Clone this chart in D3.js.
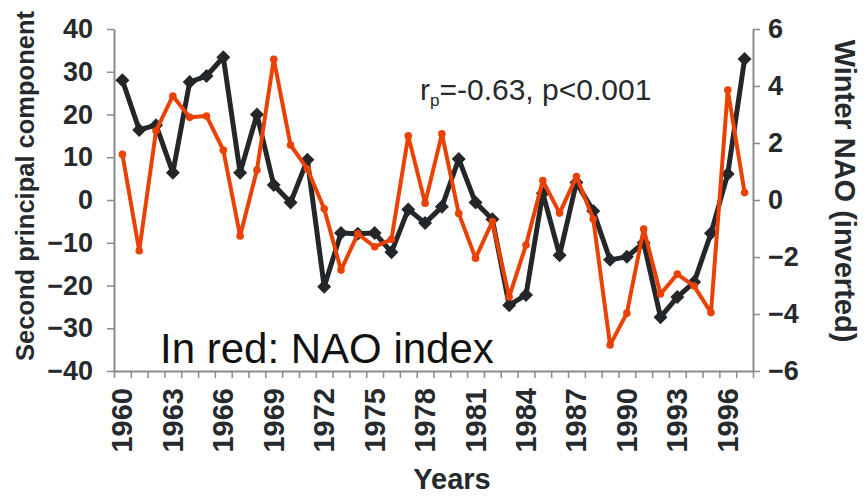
<!DOCTYPE html>
<html>
<head>
<meta charset="utf-8">
<script src="https://cdn.jsdelivr.net/npm/d3@7"></script>
<style>
  html, body { margin: 0; padding: 0; background: #fff; }
  svg { display: block; font-family: "Liberation Sans", Arial, Helvetica, sans-serif; }
</style>
</head>
<body>
<svg id="chart" width="867" height="496"></svg>
<script>
// Years of record
const years = d3.range(1960, 1998);

// Second principal component (left axis)
const pc2 = [28, 16.4, 17.5, 6.4, 27.6, 29, 33.4, 6.4, 20, 3.5,
             -0.6, 9.4, -20.3, -7.7, -7.9, -7.7, -12.2, -2.2, -5.4, -1.6,
             9.6, -0.6, -4.5, -24.6, -22.2, 1.6, -12.9, 4.1, -2.6, -14,
             -13.3, -10, -27.4, -22.7, -19.2, -7.8, 6.1, 33];

// Winter NAO index, inverted (right axis)
const nao = [1.6, -1.78, 2.43, 3.65, 2.9, 2.95, 1.75, -1.26, 1.05, 4.94,
             1.93, 1.09, -0.31, -2.46, -1.19, -1.64, -1.38, 2.25, -0.11, 2.32,
             -0.47, -2.04, -0.76, -3.4, -1.58, 0.68, -0.46, 0.82, -0.67, -5.09,
             -3.97, -1.02, -3.3, -2.6, -3.02, -3.95, 3.86, 0.26];

const leftTicks = d3.range(-40, 41, 10);
const rightTicks = d3.range(-6, 7, 2);
const yearLabels = d3.range(1960, 1998, 3);

const svg = d3.select("#chart");
const plotL = 114, plotR = 753, plotT = 29, plotB = 371;
const ink = "#262a2d", axisGrey = "#8a8a8a";
const blackSeries = "#23272a", redSeries = "#ea4104";

const x = d3.scaleLinear().domain([1959.5, 1997.5]).range([plotL, plotR]);
const yL = d3.scaleLinear().domain([-40, 40]).range([plotB, plotT]);
const yR = d3.scaleLinear().domain([-6, 6]).range([plotB, plotT]);

// Axes
function styleAxis(g) {
  g.selectAll(".domain").attr("stroke", axisGrey).attr("stroke-width", 2);
  g.selectAll(".tick line").attr("stroke", axisGrey).attr("stroke-width", 1.5);
  g.selectAll("text").attr("fill", ink).attr("font-weight", "bold")
    .attr("font-family", "'Liberation Sans', Arial, sans-serif");
}

svg.append("g").attr("transform", `translate(${plotL},0)`)
  .call(d3.axisLeft(yL).tickValues(leftTicks).tickSize(7).tickPadding(14).tickSizeOuter(0))
  .call(styleAxis)
  .call(g => g.selectAll("text").attr("font-size", 27));

svg.append("g").attr("transform", `translate(${plotR},0)`)
  .call(d3.axisRight(yR).tickValues(rightTicks).tickSize(7).tickPadding(8).tickSizeOuter(0))
  .call(styleAxis)
  .call(g => g.selectAll("text").attr("font-size", 27));

// Category boundary ticks on the time axis
svg.append("g").attr("transform", `translate(0,${plotB})`)
  .call(d3.axisBottom(x).tickValues(d3.range(1959.5, 1998, 1)).tickSize(7).tickFormat(() => "").tickSizeOuter(0))
  .call(styleAxis);

// Year labels, rotated
svg.append("g").selectAll("text").data(yearLabels).join("text")
  .attr("transform", d => `translate(${x(d)},388) rotate(-90)`)
  .attr("text-anchor", "end")
  .attr("dominant-baseline", "central")
  .attr("font-size", 29).attr("font-weight", "bold").attr("fill", ink)
  .text(d => d);

// Series lines
const lineL = d3.line().x((d, i) => x(years[i])).y(d => yL(d));
const lineR = d3.line().x((d, i) => x(years[i])).y(d => yR(d));

svg.append("path").datum(pc2).attr("d", lineL)
  .attr("fill", "none").attr("stroke", blackSeries).attr("stroke-width", 5)
  .attr("stroke-linejoin", "round");
svg.append("g").selectAll("path").data(pc2).join("path")
  .attr("d", d3.symbol(d3.symbolDiamond2, 125))
  .attr("transform", (d, i) => `translate(${x(years[i])},${yL(d)})`)
  .attr("fill", blackSeries);

svg.append("path").datum(nao).attr("d", lineR)
  .attr("fill", "none").attr("stroke", redSeries).attr("stroke-width", 4)
  .attr("stroke-linejoin", "round");
svg.append("g").selectAll("circle").data(nao).join("circle")
  .attr("cx", (d, i) => x(years[i])).attr("cy", d => yR(d)).attr("r", 3.8)
  .attr("fill", redSeries);

// Axis titles
svg.append("text")
  .attr("transform", `translate(25,186) rotate(-90)`)
  .attr("text-anchor", "middle").attr("dominant-baseline", "central")
  .attr("font-size", 25.5).attr("font-weight", "bold").attr("fill", ink)
  .text("Second principal component");

svg.append("text")
  .attr("transform", `translate(845,191) rotate(90)`)
  .attr("text-anchor", "middle").attr("dominant-baseline", "central")
  .attr("font-size", 29).attr("font-weight", "bold").attr("fill", ink)
  .text("Winter NAO (inverted)");

svg.append("text")
  .attr("x", 452).attr("y", 489)
  .attr("text-anchor", "middle")
  .attr("font-size", 29).attr("font-weight", "bold").attr("fill", ink)
  .text("Years");

// Annotations
const ann = svg.append("text")
  .attr("x", 420).attr("y", 100)
  .attr("font-size", 30).attr("fill", ink);
ann.append("tspan").text("r");
ann.append("tspan").attr("font-size", 17).attr("dy", 6).text("p");
ann.append("tspan").attr("dy", -6).text("=-0.63, p<0.001");

svg.append("text")
  .attr("x", 160).attr("y", 363)
  .attr("font-size", 42).attr("fill", "#111")
  .text("In red: NAO index");
</script>
</body>
</html>
